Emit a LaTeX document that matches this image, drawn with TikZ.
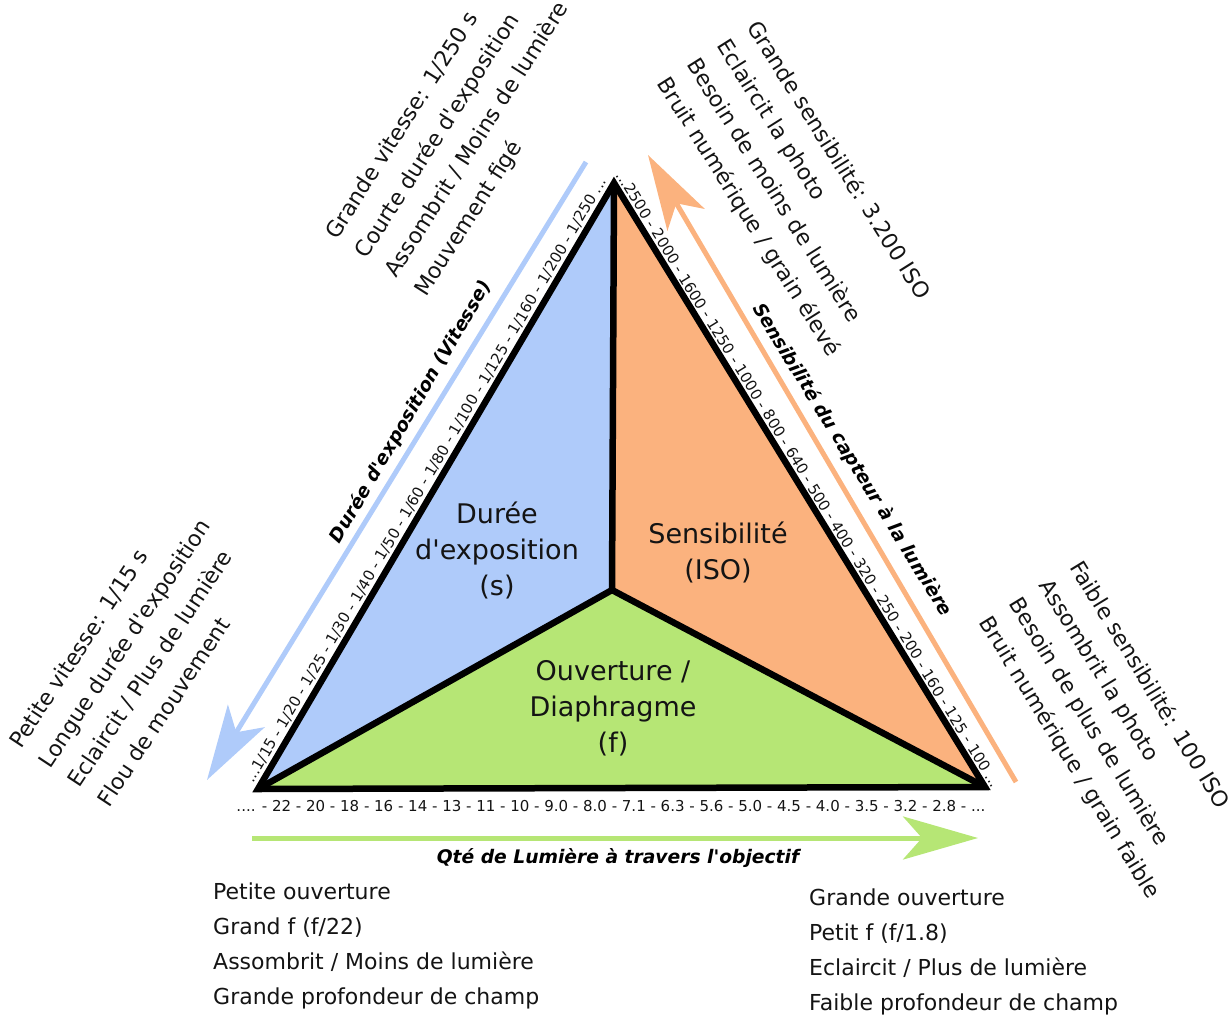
\documentclass[tikz,border=0pt]{standalone}
\usepackage{fontspec}
\setmainfont{DejaVu Sans}
\usetikzlibrary{arrows.meta}
\definecolor{cblue}{RGB}{175,203,250}
\definecolor{corange}{RGB}{251,178,126}
\definecolor{cgreen}{RGB}{182,230,117}
\definecolor{ink}{RGB}{20,20,20}
\tikzset{
  edgeline/.style={line width=6.5pt, line join=miter},
  tick/.style={inner sep=0pt, text=ink, font=\fontsize{15}{18}\selectfont},
  lbl/.style={inner sep=0pt, font=\fontsize{18.7}{22}\selectfont\bfseries\itshape},
  ctr/.style={inner sep=0pt, text=ink, align=center, font=\fontsize{27}{36}\selectfont},
  blk/.style={inner sep=0pt, text=ink, anchor=base west, font=\fontsize{22}{35.3}\selectfont},
  bigarrow/.style={line width=5pt, -{Stealth[length=75pt,width=43pt,inset=19pt]}}
}
\newcommand{\lines}[1]{\begin{tabular}[t]{@{}l@{}}#1\end{tabular}}
\newcommand{\ap}{\textquotesingle}
\begin{document}
\begin{tikzpicture}[x=1pt,y=-1pt]
\useasboundingbox (0,0) rectangle (1231,1017);
\coordinate (T) at (614,183);
\coordinate (L) at (258,789);
\coordinate (R) at (985,787);
\coordinate (C) at (612,590);
% fills
\fill[cblue] (T) -- (C) -- (L) -- cycle;
\fill[corange] (T) -- (R) -- (C) -- cycle;
\fill[cgreen] (L) -- (C) -- (R) -- cycle;
\draw[edgeline] (T) -- (C);
\draw[edgeline] (L) -- (C) -- (R);
\draw[edgeline] (T) -- (L) -- (R) -- cycle;
% tick scales
\path (L) -- (T) node[tick, midway, sloped, above=5pt] (tickL)
  {...1/15 - 1/20 - 1/25 - 1/30 - 1/40 - 1/50 - 1/60 - 1/80 - 1/100 - 1/125 - 1/160 - 1/200 - 1/250 ...};
\path (T) -- (R) node[tick, midway, sloped, above=5pt] (tickR)
  {...2500 - 2000 - 1600 - 1250 - 1000 - 800 - 640 - 500 - 400 - 320 - 250 - 200 - 160 - 125 - 100 ...};
\node[tick] (tickB) at (611,806)
  {.... - 22 - 20 - 18 - 16 - 14 - 13 - 11 - 10 - 9.0 - 8.0 - 7.1 - 6.3 - 5.6 - 5.0 - 4.5 - 4.0 - 3.5 - 3.2 - 2.8 - ...};
% arrows
\coordinate (bS) at (586,162);
\coordinate (bE) at (207,780);
\coordinate (oS) at (1016,782);
\coordinate (oE) at (648,155);
\coordinate (gS) at (252,838);
\coordinate (gE) at (978,838);
\draw[bigarrow, draw=cblue, fill=cblue] (bS) -- (bE);
\draw[bigarrow, draw=corange, fill=corange] (oS) -- (oE);
\draw[bigarrow, draw=cgreen, fill=cgreen] (gS) -- (gE);
% axis labels
\node[lbl, rotate=59.6] (dlab) at (411,412) {Durée d\ap exposition (Vitesse)};
\node[lbl, rotate=-58.4] (slab) at (852,460) {Sensibilité du capteur à la lumière};
\node[lbl] (qlab) at (618,858) {Qté de Lumière à travers l\ap objectif};
% region labels
\node[ctr] (dur) at (497,550) {Durée\\d\ap exposition\\(s)};
\node[ctr] (iso) at (718,552) {Sensibilité\\(ISO)};
\node[ctr] (ouv) at (613,708) {Ouverture /\\Diaphragme\\(f)};
% explanation blocks
\node[blk, rotate=57.5] (tl) at (337,241)
  {\lines{Grande vitesse: 1/250 s\\Courte durée d\ap exposition\\Assombrit / Moins de lumière\\Mouvement figé}};
\node[blk, rotate=56.5] (bl) at (21,750)
  {\lines{Petite vitesse: 1/15 s\\Longue durée d\ap exposition\\Eclaircit / Plus de lumière\\Flou de mouvement}};
\node[blk, rotate=-57.8] (tr) at (746,27)
  {\lines{Grande sensibilité: 3.200 ISO\\Eclaircit la photo\\Besoin de moins de lumière\\Bruit numérique / grain élevé}};
\node[blk, rotate=-58.6] (br) at (1069,567)
  {\lines{Faible sensibilité: 100 ISO\\Assombrit la photo\\Besoin de plus de lumière\\Bruit numérique / grain faible}};
\node[blk] (bol) at (213,899)
  {\lines{Petite ouverture\\Grand f (f/22)\\Assombrit / Moins de lumière\\Grande profondeur de champ}};
\node[blk] (bor) at (809,905)
  {\lines{Grande ouverture\\Petit f (f/1.8)\\Eclaircit / Plus de lumière\\Faible profondeur de champ}};
\end{tikzpicture}
\end{document}
